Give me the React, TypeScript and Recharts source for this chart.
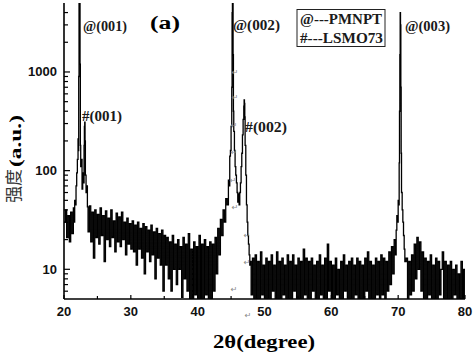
import React from 'react';
import { LineChart, Line, XAxis, YAxis } from 'recharts';

// 2θ (degree), intensity (a.u.)
const scan: [number, number][] = [
  [20.0, 30], [20.2, 40], [20.4, 21], [20.6, 35], [20.8, 19], [21.0, 38], [21.2, 23], [21.4, 42],
  [21.5, 30], [21.6, 50], [21.7, 45], [21.8, 70], [21.9, 95], [22.0, 130], [22.1, 210], [22.15, 160],
  [22.2, 900], [22.25, 9000], [22.3, 30000], [22.35, 12000], [22.4, 1200], [22.45, 180], [22.5, 110],
  [22.6, 130], [22.7, 65], [22.8, 95], [22.9, 75], [23.0, 180], [23.05, 280], [23.1, 310], [23.15, 200],
  [23.2, 90], [23.3, 60], [23.4, 70], [23.5, 43],
  [23.6, 24], [23.8, 44], [24.0, 19], [24.2, 38], [24.4, 13], [24.6, 40], [24.8, 21], [25.0, 36],
  [25.2, 18], [25.4, 42], [25.6, 22], [25.8, 35], [26.0, 12], [26.2, 39], [26.4, 20], [26.6, 33],
  [26.8, 17], [27.0, 40], [27.2, 21], [27.4, 31], [27.6, 15], [27.8, 37], [28.0, 19], [28.2, 34],
  [28.4, 17], [28.6, 38], [28.8, 20], [29.0, 30], [29.2, 14], [29.4, 33], [29.6, 18], [29.8, 29],
  [30.0, 16], [30.2, 31], [30.4, 15], [30.6, 28], [30.8, 11], [31.0, 30], [31.2, 16], [31.4, 26],
  [31.6, 13], [31.8, 29], [32.0, 9], [32.2, 27], [32.4, 15], [32.6, 25], [32.8, 12], [33.0, 28],
  [33.2, 14], [33.4, 24], [33.6, 8], [33.8, 26], [34.0, 13], [34.2, 23], [34.4, 11], [34.6, 25],
  [34.8, 6], [35.0, 22], [35.2, 11], [35.4, 21], [35.6, 8], [35.8, 19], [36.0, 6], [36.2, 22],
  [36.4, 10], [36.6, 18], [36.8, 7], [37.0, 20], [37.2, 10], [37.4, 17], [37.6, 5.2], [37.8, 21],
  [38.0, 8], [38.2, 18], [38.4, 6], [38.6, 23], [38.8, 5], [39.0, 16], [39.2, 4.8], [39.4, 19],
  [39.6, 5.5], [39.8, 17], [40.0, 4.8], [40.2, 22], [40.4, 5], [40.6, 18], [40.8, 4.8], [41.0, 20],
  [41.2, 5.5], [41.4, 17], [41.6, 4.8], [41.8, 19], [42.0, 5], [42.2, 18], [42.4, 6], [42.6, 21],
  [42.8, 9], [43.0, 26], [43.2, 14], [43.4, 32], [43.6, 22], [43.8, 40], [44.0, 30], [44.2, 52],
  [44.4, 45], [44.6, 80], [44.7, 70], [44.8, 140], [44.9, 160], [45.0, 280], [45.1, 700], [45.15, 4000],
  [45.2, 40000], [45.25, 15000], [45.3, 1500], [45.35, 400], [45.4, 250], [45.5, 160], [45.6, 110],
  [45.7, 90], [45.8, 75], [45.9, 60], [46.0, 48], [46.1, 58], [46.2, 45], [46.3, 60], [46.4, 75],
  [46.5, 110], [46.6, 150], [46.7, 230], [46.8, 330], [46.9, 450], [46.95, 520], [47.0, 480],
  [47.05, 350], [47.1, 180], [47.2, 90], [47.3, 45], [47.4, 30], [47.5, 22], [47.6, 18], [47.7, 14],
  [47.8, 11], [47.9, 12], [48.0, 5.5], [48.2, 13], [48.4, 4.8], [48.6, 14], [48.8, 5], [49.0, 12],
  [49.2, 4.8], [49.4, 15], [49.6, 5.5], [49.8, 11], [50.0, 4.8], [50.2, 13], [50.4, 5], [50.6, 12],
  [50.8, 4.8], [51.0, 14], [51.2, 6], [51.4, 11], [51.6, 4.8], [51.8, 15], [52.0, 5], [52.2, 12],
  [52.4, 4.8], [52.6, 13], [52.8, 5.5], [53.0, 11], [53.2, 4.8], [53.4, 14], [53.6, 5], [53.8, 12],
  [54.0, 4.8], [54.2, 14], [54.4, 6], [54.6, 11], [54.8, 4.8], [55.0, 13], [55.2, 5], [55.4, 12],
  [55.6, 4.8], [55.8, 16], [56.0, 5.5], [56.2, 13], [56.4, 4.8], [56.6, 12], [56.8, 5], [57.0, 13],
  [57.2, 6], [57.4, 11], [57.6, 4.8], [57.8, 12], [58.0, 5], [58.2, 14], [58.4, 5.5], [58.6, 11],
  [58.8, 4.8], [59.0, 13], [59.2, 5], [59.4, 18], [59.6, 6], [59.8, 12], [60.0, 4.8], [60.2, 11],
  [60.4, 5], [60.6, 13], [60.8, 5.5], [61.0, 10], [61.2, 4.8], [61.4, 12], [61.6, 5], [61.8, 14],
  [62.0, 6], [62.2, 11], [62.4, 4.8], [62.6, 12], [62.8, 5], [63.0, 13], [63.2, 4.8], [63.4, 11],
  [63.6, 5.5], [63.8, 13], [64.0, 5], [64.2, 12], [64.4, 4.8], [64.6, 11], [64.8, 5], [65.0, 13],
  [65.2, 6], [65.4, 15], [65.6, 4.8], [65.8, 12], [66.0, 5], [66.2, 11], [66.4, 4.8], [66.6, 13],
  [66.8, 5.5], [67.0, 12], [67.2, 4.8], [67.4, 14], [67.6, 5.5], [67.8, 13], [68.0, 5], [68.2, 12],
  [68.4, 6], [68.6, 15], [68.8, 7], [69.0, 17], [69.2, 9], [69.4, 20], [69.6, 14], [69.7, 25],
  [69.8, 35], [69.9, 30], [70.0, 50], [70.1, 45], [70.15, 120], [70.2, 400], [70.25, 1500],
  [70.3, 4000], [70.35, 3000], [70.4, 700], [70.45, 150], [70.5, 60], [70.6, 40], [70.7, 30],
  [70.8, 22], [70.9, 16], [71.0, 12], [71.2, 13], [71.4, 5], [71.6, 12], [71.8, 5.5], [72.0, 14],
  [72.2, 6], [72.4, 18], [72.6, 8], [72.8, 21], [73.0, 10], [73.2, 19], [73.4, 6], [73.6, 15],
  [73.8, 4.8], [74.0, 13], [74.2, 4.8], [74.4, 12], [74.6, 5.5], [74.8, 14], [75.0, 4.8], [75.2, 11],
  [75.4, 5], [75.6, 13], [75.8, 4.8], [76.0, 12], [76.2, 5.5], [76.4, 10], [76.6, 15], [76.8, 5],
  [77.0, 12], [77.2, 4.8], [77.4, 11], [77.6, 5], [77.8, 12], [78.0, 4.8], [78.2, 10], [78.4, 5.5],
  [78.6, 11], [78.8, 4.8], [79.0, 9], [79.2, 5], [79.4, 12], [79.6, 4.8], [79.8, 10], [80.0, 5],
];

const xTicks = [20, 25, 30, 35, 40, 45, 50, 55, 60, 65, 70, 75, 80];
const xLabelled = [20, 30, 40, 50, 60, 70, 80];
const yTicks = [6, 7, 8, 9, 10, 20, 30, 40, 50, 60, 70, 80, 90, 100, 200, 300, 400, 500, 600, 700, 800, 900, 1000, 2000, 3000, 4000];
const yLabelled = [10, 100, 1000];

const peakLabels = [
  { text: '@(001)', x: 83, y: 31, w: 44 },
  { text: '#(001)', x: 82, y: 121, w: 40 },
  { text: '@(002)', x: 233, y: 30, w: 47 },
  { text: '#(002)', x: 245, y: 132, w: 42 },
  { text: '@(003)', x: 405, y: 31, w: 45 },
];
const legendLines = [
  { text: '@---PMNPT', x: 300, y: 24, w: 82 },
  { text: '#---LSMO73', x: 300, y: 43, w: 83 },
];
const returnMarks: [number, number][] = [
  [235, 75], [235, 100], [234, 128], [234, 155], [233, 183], [235, 210], [247, 238], [247, 265], [234, 292], [248, 318],
];

const data = scan.map(([angle, counts]) => ({ angle, counts }));

const serif = '"Liberation Serif", "Times New Roman", serif';
const sans = '"Liberation Sans", Arial, sans-serif';

const YTick = (props: any) => {
  const { x, y, payload } = props;
  const v = payload.value;
  const major = yLabelled.includes(v);
  return (
    <g>
      <line x1={x} x2={x + (major ? 6 : 4)} y1={y} y2={y} stroke="#000" strokeWidth={1.2} />
      {major && (
        <text x={x - 7} y={y + 4.5} textAnchor="end" fontFamily={sans} fontWeight="bold" fontSize={13} fill="#111">
          {v}
        </text>
      )}
    </g>
  );
};

const XTick = (props: any) => {
  const { x, y, payload } = props;
  const v = payload.value;
  const major = xLabelled.includes(v);
  return (
    <g>
      <line x1={x} x2={x} y1={y} y2={y - (major ? 4 : 3)} stroke="#000" strokeWidth={1.2} />
      {major && (
        <text x={x} y={y + 16.5} textAnchor="middle" fontFamily={sans} fontWeight="bold" fontSize={13} fill="#111">
          {v}
        </text>
      )}
    </g>
  );
};

export default function App() {
  const axisLine = { stroke: '#000', strokeWidth: 1.6 };
  return (
    <div style={{ position: 'absolute', left: 0, top: 0, width: 474, height: 355, background: '#fff' }}>
      <LineChart width={474} height={355} data={data} margin={{ top: 3, right: 9, bottom: 0, left: 0 }}>
        <XAxis
          dataKey="angle"
          type="number"
          domain={[20, 80]}
          ticks={xTicks}
          interval={0}
          tick={XTick}
          tickLine={false}
          tickSize={0}
          tickMargin={0}
          height={56}
          axisLine={axisLine}
          allowDataOverflow
        />
        <XAxis xAxisId="top" orientation="top" type="number" domain={[20, 80]} height={0} tick={false} tickLine={false} axisLine={axisLine} />
        <YAxis
          scale="log"
          domain={[5, 5000]}
          type="number"
          ticks={yTicks}
          interval={0}
          tick={YTick}
          tickLine={false}
          tickSize={0}
          tickMargin={0}
          width={64}
          axisLine={axisLine}
          allowDataOverflow
        />
        <YAxis yAxisId="right" orientation="right" scale="log" domain={[5, 5000]} type="number" width={0} tick={false} tickLine={false} axisLine={axisLine} />
        <Line dataKey="counts" type="stepAfter" stroke="#000" strokeWidth={1.3} dot={false} isAnimationActive={false} />
      </LineChart>
      <svg width={474} height={355} style={{ position: 'absolute', left: 0, top: 0, pointerEvents: 'none' }}>
        {peakLabels.map((p) => (
          <text key={p.text} x={p.x} y={p.y} fontFamily={serif} fontWeight="bold" fontSize={14} fill="#1a1a1a" textLength={p.w} lengthAdjust="spacingAndGlyphs">
            {p.text}
          </text>
        ))}
        <text x={150} y={29} fontFamily={serif} fontWeight="bold" fontSize={18} fill="#000" textLength={30} lengthAdjust="spacingAndGlyphs">
          (a)
        </text>
        <rect x={297} y={9.5} width={88} height={37} fill="#fff" stroke="#222" strokeWidth={1} />
        {legendLines.map((l) => (
          <text key={l.text} x={l.x} y={l.y} fontFamily={serif} fontWeight="bold" fontSize={15} fill="#1a1a1a" textLength={l.w} lengthAdjust="spacingAndGlyphs">
            {l.text}
          </text>
        ))}
        <text x={264} y={348} textAnchor="middle" fontFamily={serif} fontWeight="bold" fontSize={19} fill="#000" textLength={102} lengthAdjust="spacingAndGlyphs">
          2θ(degree)
        </text>
        <text transform="translate(21,141) rotate(-90)" textAnchor="middle" fontFamily={serif} fontWeight="bold" fontSize={16} fill="#000" textLength={52} lengthAdjust="spacingAndGlyphs">
          (a.u.)
        </text>
        <text transform="translate(20,186) rotate(-90)" textAnchor="middle" fontFamily='"Noto Sans CJK SC", sans-serif' fontSize={17} fill="#333">
          强度
        </text>
        {returnMarks.map(([x, y], i) => (
          <text key={i} x={x} y={y} textAnchor="middle" fontFamily='"DejaVu Sans", sans-serif' fontSize={8} fill="#888">
            ↵
          </text>
        ))}
      </svg>
    </div>
  );
}
